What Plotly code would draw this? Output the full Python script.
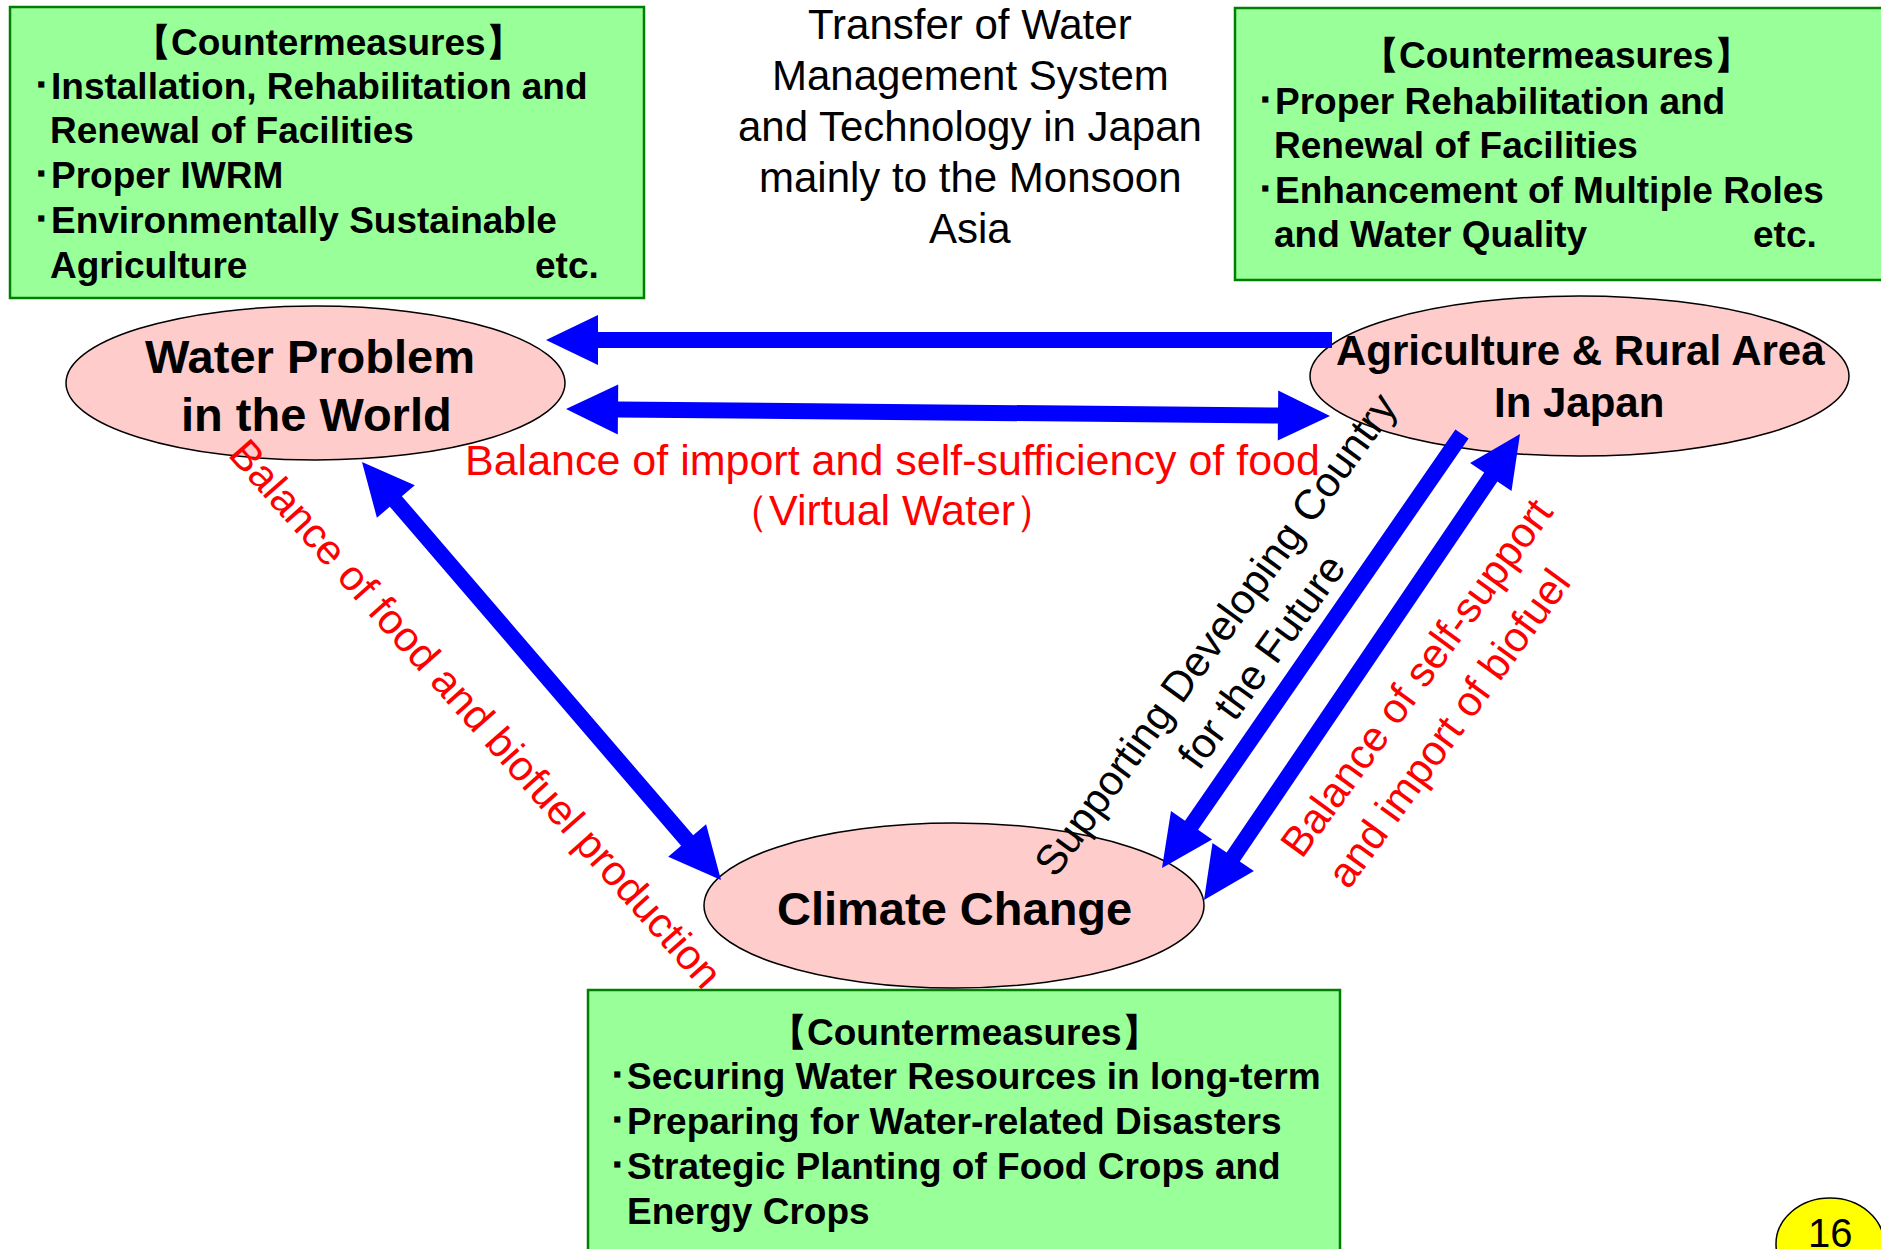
import math
import plotly.graph_objects as go

W, H = 1881, 1249

# ---------------- content (texts) ----------------
TITLE_LINES = ["Transfer of Water", "Management System", "and Technology in Japan",
               "mainly to the Monsoon", "Asia"]
BOX_TITLE = "【Countermeasures】"
BOX_LEFT_LINES = ["･Installation, Rehabilitation and", "Renewal of Facilities",
                  "･Proper IWRM", "･Environmentally Sustainable", "Agriculture"]
BOX_RIGHT_LINES = ["･Proper Rehabilitation and", "Renewal of Facilities",
                   "･Enhancement of Multiple Roles", "and Water Quality"]
BOX_BOTTOM_LINES = ["･Securing Water Resources in long-term",
                    "･Preparing for Water-related Disasters",
                    "･Strategic Planting of Food Crops and", "Energy Crops"]
ETC = "etc."
WORLD_LINES = ["Water Problem", "in the World"]
JAPAN_LINES = ["Agriculture & Rural Area", "In Japan"]
CLIMATE_LINES = ["Climate Change"]
VIRTUAL_LINES = ["Balance of import and self-sufficiency of food", "（Virtual Water）"]
FOOD_BIOFUEL = "Balance of food and biofuel production"
SUPPORT_LINES = ["Supporting Developing Country", "for the Future"]
SELF_SUPPORT_LINES = ["Balance of self-support", "and import of biofuel"]
PAGE_NUMBER = "16"

# ---------------- styles ----------------
GREEN_FILL, GREEN_LINE = "#99FF99", "#008000"
PINK = "#FFCCCC"
BLUE = "#0000FF"
RED = "#FF0000"
FONT = "Liberation Sans, Arial, sans-serif"

fig = go.Figure()
fig.add_trace(go.Scatter(x=[0, W], y=[0, H], mode="markers",
                         marker=dict(opacity=0), hoverinfo="skip", showlegend=False))

shapes = []
ann = []


def box(x0, y0, x1, y1):
    shapes.append(dict(type="rect", xref="x", yref="y", x0=x0, y0=y0, x1=x1, y1=y1,
                       fillcolor=GREEN_FILL, line=dict(color=GREEN_LINE, width=2.5),
                       layer="below"))


def ellipse(x0, y0, x1, y1, fill=PINK):
    shapes.append(dict(type="circle", xref="x", yref="y", x0=x0, y0=y0, x1=x1, y1=y1,
                       fillcolor=fill, line=dict(color="black", width=1.5), layer="below"))


def text(x, y, s, size, color="black", bold=False, xanchor="center", angle=0):
    ann.append(dict(x=x, y=y, xref="x", yref="y", text=("<b>%s</b>" % s) if bold else s,
                    showarrow=False, xanchor=xanchor, yanchor="middle", textangle=angle,
                    font=dict(family=FONT, size=size, color=color)))


def arrow(p0, p1, both, shaft=16, head_len=52, head_w=50):
    dx, dy = p1[0] - p0[0], p1[1] - p0[1]
    L = math.hypot(dx, dy)
    ux, uy = dx / L, dy / L
    nx, ny = -uy, ux
    hs, hw = shaft / 2, head_w / 2

    def pt(base, along, side):
        return (base[0] + ux * along + nx * side, base[1] + uy * along + ny * side)

    pts = []
    if both:
        pts += [p0, pt(p0, head_len, hw), pt(p0, head_len, hs)]
    else:
        pts += [pt(p0, 0, hs)]
    pts += [pt(p1, -head_len, hs), pt(p1, -head_len, hw), p1,
            pt(p1, -head_len, -hw), pt(p1, -head_len, -hs)]
    if both:
        pts += [pt(p0, head_len, -hs), pt(p0, head_len, -hw)]
    else:
        pts += [pt(p0, 0, -hs)]
    path = "M " + " L ".join("%.1f,%.1f" % p for p in pts) + " Z"
    shapes.append(dict(type="path", xref="x", yref="y", path=path, fillcolor=BLUE,
                       line=dict(width=0), layer="below"))


# ---------------- green boxes ----------------
box(10, 7, 644, 298)
box(1235, 8, 1900, 280)
box(588, 990, 1340, 1270)

BOX_FS = 37


def box_text(title_xy, lines, bullet_x, text_x, y0, dy, etc_right=None):
    text(title_xy[0], title_xy[1], BOX_TITLE, BOX_FS, bold=True)
    for i, ln in enumerate(lines):
        x = bullet_x if ln.startswith("･") else text_x
        text(x, y0 + i * dy, ln, BOX_FS, bold=True, xanchor="left")
    if etc_right is not None:
        text(etc_right, y0 + (len(lines) - 1) * dy, ETC, BOX_FS, bold=True, xanchor="right")


box_text((328, 42), BOX_LEFT_LINES, 30, 48, 86, 44.8, etc_right=601)
box_text((1556, 55), BOX_RIGHT_LINES, 1254, 1272, 101, 44.5, etc_right=1819)
box_text((964, 1032), BOX_BOTTOM_LINES, 606, 625, 1076, 45)

# ---------------- title ----------------
for i, ln in enumerate(TITLE_LINES):
    text(970, 24 + i * 51, ln, 42)

# ---------------- ellipses ----------------
ellipse(66, 306, 565, 460)
ellipse(1310, 296, 1849, 456)
ellipse(704, 823, 1204, 988)
ellipse(1776, 1198, 1884, 1290, fill="#FFFF00")

# ---------------- arrows ----------------
arrow((1332, 340), (546, 340), False)
arrow((566, 409), (1330, 416), True)
arrow((362, 462), (721, 880), True)
arrow((1462, 434), (1162, 868), False)
arrow((1204, 900), (1520, 434), True)

# ---------------- node labels ----------------
text(310, 356, WORLD_LINES[0], 47, bold=True)
text(316, 414, WORLD_LINES[1], 47, bold=True)
text(1580, 350, JAPAN_LINES[0], 42, bold=True)
text(1579, 402, JAPAN_LINES[1], 42, bold=True)
text(954, 908, CLIMATE_LINES[0], 47, bold=True)
text(1830, 1233, PAGE_NUMBER, 40)

# ---------------- link labels ----------------
text(892, 460, VIRTUAL_LINES[0], 43, color=RED)
text(892, 510, VIRTUAL_LINES[1], 43, color=RED)
text(476, 713, FOOD_BIOFUEL, 42, color=RED, angle=48.4)
text(1215, 634, SUPPORT_LINES[0], 42, angle=-54)
text(1261, 661, SUPPORT_LINES[1], 42, angle=-54)
text(1416, 677, SELF_SUPPORT_LINES[0], 42, color=RED, angle=-54)
text(1448, 728, SELF_SUPPORT_LINES[1], 42, color=RED, angle=-54)

fig.update_layout(
    width=W, height=H, margin=dict(l=0, r=0, t=0, b=0),
    paper_bgcolor="white", plot_bgcolor="white",
    xaxis=dict(range=[0, W], visible=False, fixedrange=True),
    yaxis=dict(range=[H, 0], visible=False, fixedrange=True),
    shapes=shapes, annotations=ann, showlegend=False,
)
fig.write_html("out.html", config={"displayModeBar": False},
               post_script="document.body.style.margin='0';document.body.style.overflow='hidden';")
